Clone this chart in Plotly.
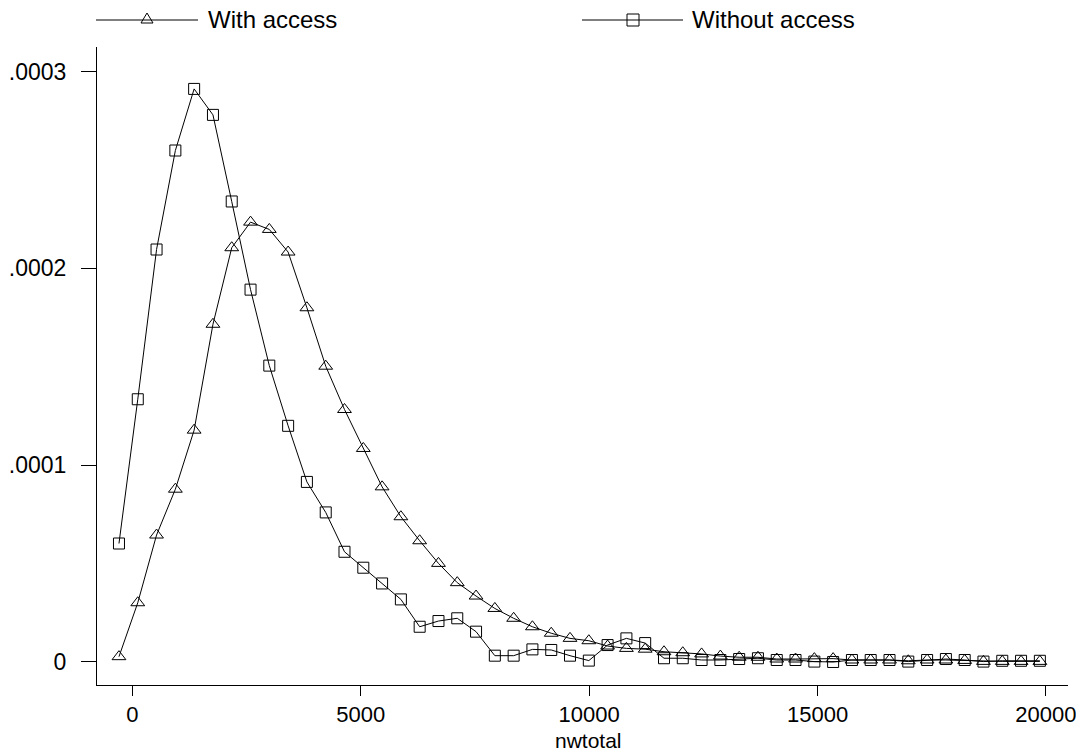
import plotly.graph_objects as go

# evaluation points (nwtotal)
x_points = [-296, 116, 527, 939, 1350, 1762, 2173, 2585, 2996, 3408,
            3819, 4231, 4642, 5054, 5465, 5877, 6288, 6700, 7111, 7523,
            7934, 8346, 8757, 9169, 9580, 9992, 10403, 10815, 11226, 11638,
            12049, 12461, 12872, 13284, 13695, 14107, 14518, 14930, 15341, 15753,
            16164, 16576, 16987, 17399, 17810, 18222, 18633, 19045, 19456, 19868]

# density, in units of 1e-4
with_access_e4 = [0.027, 0.301, 0.645, 0.878, 1.178, 1.716, 2.105, 2.235, 2.198, 2.083,
                  1.800, 1.503, 1.283, 1.085, 0.890, 0.738, 0.616, 0.501, 0.403, 0.335,
                  0.272, 0.222, 0.179, 0.146, 0.120, 0.108, 0.081, 0.069, 0.065, 0.052,
                  0.047, 0.041, 0.030, 0.024, 0.024, 0.015, 0.015, 0.017, 0.017, 0.010,
                  0.010, 0.010, 0.006, 0.010, 0.010, 0.008, 0.003, 0.003, 0.003, 0.003]

without_access_e4 = [0.602, 1.335, 2.096, 2.599, 2.912, 2.780, 2.340, 1.892, 1.506, 1.200,
                     0.915, 0.760, 0.560, 0.479, 0.399, 0.318, 0.179, 0.208, 0.222, 0.154,
                     0.032, 0.032, 0.064, 0.061, 0.032, 0.007, 0.086, 0.120, 0.096, 0.019,
                     0.019, 0.010, 0.010, 0.015, 0.019, 0.010, 0.010, 0.002, 0.000, 0.010,
                     0.010, 0.010, 0.002, 0.010, 0.015, 0.010, 0.002, 0.006, 0.006, 0.006]

x_tick_vals = [0, 5000, 10000, 15000, 20000]
x_tick_text = ["0", "5000", "10000", "15000", "20000"]
y_tick_vals = [0, 0.0001, 0.0002, 0.0003]
y_tick_text = ["0", ".0001", ".0002", ".0003"]
series_names = ["With access", "Without access"]
x_title = "nwtotal"

with_access = [v * 1e-4 for v in with_access_e4]
without_access = [v * 1e-4 for v in without_access_e4]

FONT = "Liberation Sans, Arial, sans-serif"
W, H = 1076, 753
L, R, T, B = 97, 8, 47, 68
pw, ph = W - L - R, H - T - B


def px_x(p):
    return (p - L) / pw


def px_y(p):
    return (H - B - p) / ph


fig = go.Figure()
fig.add_trace(go.Scatter(
    x=x_points, y=with_access, mode="lines+markers", name=series_names[0],
    line=dict(color="black", width=1),
    marker=dict(symbol="triangle-up-open", size=12, color="black", line=dict(width=1)),
    cliponaxis=False, showlegend=False))
fig.add_trace(go.Scatter(
    x=x_points, y=without_access, mode="lines+markers", name=series_names[1],
    line=dict(color="black", width=1),
    marker=dict(symbol="square-open", size=11, color="black", line=dict(width=1)),
    cliponaxis=False, showlegend=False))

# custom legend drawn at top
shapes = []
annotations = []
ly = px_y(20)
legend_items = [
    (96, 198, 147, 206, "tri", series_names[0]),
    (582, 683, 633, 690, "sq", series_names[1]),
]
for x0, x1, xm, xt, sym, label in legend_items:
    shapes.append(dict(type="line", xref="paper", yref="paper",
                       x0=px_x(x0), x1=px_x(x1), y0=ly, y1=ly,
                       line=dict(color="black", width=1)))
    if sym == "tri":
        path = "M-6,-3 L6,-3 L0,7 Z"
    else:
        path = "M-6,-6 L6,-6 L6,6 L-6,6 Z"
    shapes.append(dict(type="path", xref="paper", yref="paper",
                       xsizemode="pixel", ysizemode="pixel",
                       xanchor=px_x(xm), yanchor=ly, path=path,
                       line=dict(color="black", width=1), fillcolor="rgba(0,0,0,0)"))
    annotations.append(dict(xref="paper", yref="paper", x=px_x(xt), y=ly,
                            xanchor="left", yanchor="middle", showarrow=False,
                            text=label, font=dict(family=FONT, size=24, color="black")))

# x axis title
annotations.append(dict(xref="paper", yref="paper", x=px_x(588), y=px_y(740),
                        xanchor="center", yanchor="middle", showarrow=False,
                        text=x_title, font=dict(family=FONT, size=21, color="black")))

fig.update_layout(
    width=W, height=H,
    margin=dict(l=L, r=R, t=T, b=B, pad=0),
    paper_bgcolor="white", plot_bgcolor="white",
    font=dict(family=FONT, size=22, color="black"),
    shapes=shapes, annotations=annotations,
    showlegend=False,
)
fig.update_xaxes(
    range=[-777, 20484], showgrid=False, zeroline=False,
    showline=True, linecolor="black", linewidth=1, mirror=False,
    ticks="outside", ticklen=10, tickwidth=1, tickcolor="black",
    tickvals=x_tick_vals, ticktext=x_tick_text, ticklabelstandoff=0,
    ticklabeloverflow="allow",
    tickfont=dict(family=FONT, size=22, color="black"),
    automargin=False,
)
fig.update_yaxes(
    range=[-0.0000117, 0.0003125], showgrid=False, zeroline=False,
    showline=True, linecolor="black", linewidth=1, mirror=False,
    ticks="outside", ticklen=15, tickwidth=1, tickcolor="black",
    tickvals=y_tick_vals, ticktext=y_tick_text, ticklabelstandoff=10,
    ticklabeloverflow="allow",
    tickfont=dict(family=FONT, size=23, color="black"),
    automargin=False,
)

fig.write_html("out.html", post_script="document.body.style.margin='0px';",
               config={"displayModeBar": False})
